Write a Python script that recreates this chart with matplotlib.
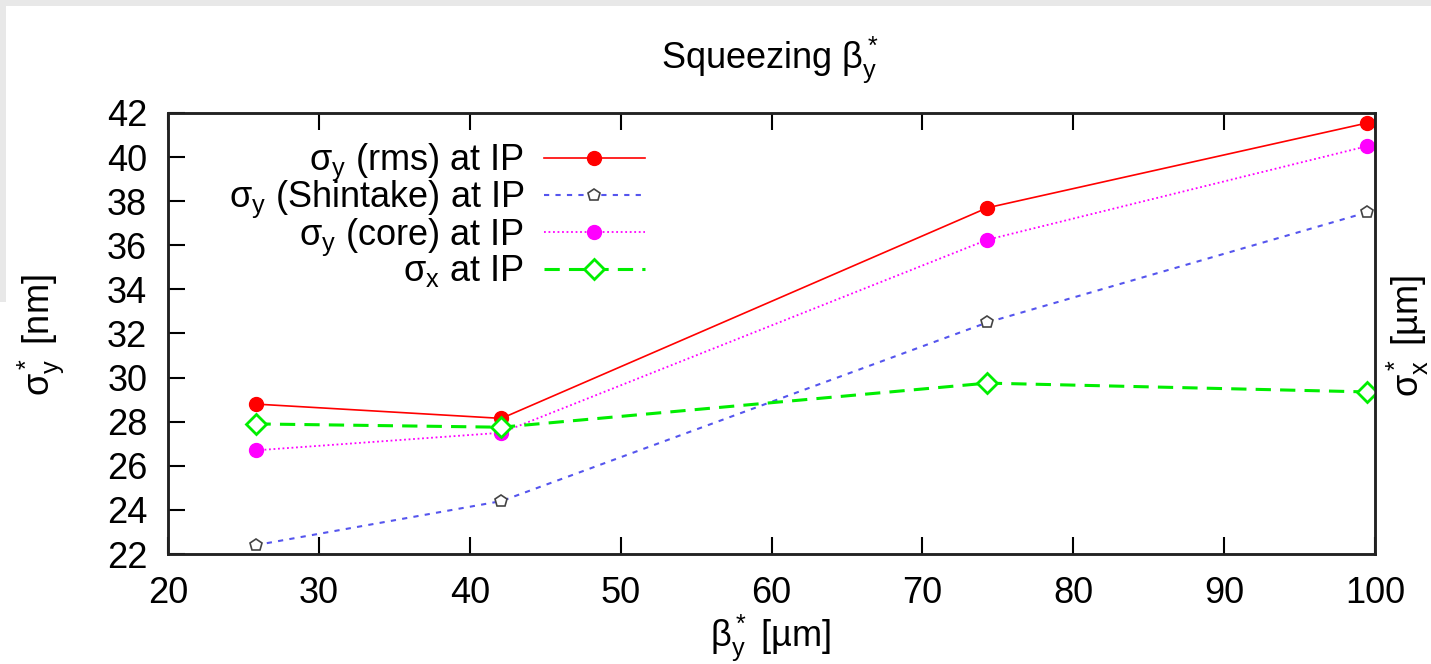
import matplotlib
matplotlib.use("Agg")
import matplotlib.pyplot as plt
from matplotlib.patches import Rectangle

plt.rcParams['font.family'] = ['Liberation Sans', 'DejaVu Sans']
plt.rcParams['mathtext.fontset'] = 'custom'
plt.rcParams['mathtext.rm'] = 'Liberation Sans'
plt.rcParams['mathtext.it'] = 'Liberation Sans'
plt.rcParams['mathtext.default'] = 'rm'

# beta_y* [um]
beta_y = [25.8, 42.1, 74.3, 99.5]
# sigma_y* [nm]
sig_rms = [28.8, 28.15, 37.7, 41.55]
sig_shintake = [22.4, 24.4, 32.5, 37.5]
sig_core = [26.7, 27.5, 36.25, 40.5]
# sigma_x* [um] (right axis)
sig_x = [27.9, 27.75, 29.75, 29.35]

x_ticks = [20, 30, 40, 50, 60, 70, 80, 90, 100]
y_ticks = [22, 24, 26, 28, 30, 32, 34, 36, 38, 40, 42]

W, H = 1431, 664
fig = plt.figure(figsize=(W / 100, H / 100), dpi=100, facecolor='white')
# grey strip of the screenshot border
fig.add_artist(Rectangle((0, 1 - 6 / H), 1, 6 / H, transform=fig.transFigure,
                         color='#e8e8e8', lw=0, zorder=-10))
fig.add_artist(Rectangle((0, 1 - 302 / H), 6 / W, 302 / H, transform=fig.transFigure,
                         color='#e8e8e8', lw=0, zorder=-10))

ax = fig.add_axes([168 / W, 110 / H, 1207 / W, 441 / H])
ax2 = ax.twinx()

fs = 26
ax.plot(beta_y, sig_rms, color='red', lw=1.2, ls='-', marker='o', ms=10,
        mfc='red', mec='red', label='σ$_y$ (rms) at IP')
ax.plot(beta_y, sig_shintake, color='#5555ee', lw=1.5, ls=(0, (2.5, 3)), marker='p', ms=9,
        mfc='white', mec='#444444', mew=1.2, label='σ$_y$ (Shintake) at IP')
ax.plot(beta_y, sig_core, color='magenta', lw=1.3, ls=(0, (1, 1.5)), marker='o', ms=10,
        mfc='magenta', mec='magenta', label='σ$_y$ (core) at IP')
ax2.plot(beta_y, sig_x, color='#00ee00', lw=2.2, ls=(0, (5, 3)), marker='D', ms=10,
         mfc='white', mec='#00ee00', mew=2, label='σ$_x$ at IP')

ax.set_xlim(20, 100)
ax.set_ylim(22, 42)
ax2.set_ylim(22, 42)
ax.set_xticks(x_ticks)
ax.set_yticks(y_ticks)
ax2.set_yticks([])
ax.tick_params(direction='in', length=12, width=1.5, labelsize=fs, top=True,
               right=False)
ax.tick_params(axis='x', pad=16)
ax.tick_params(axis='y', pad=15)
for a in (ax, ax2):
    for s in a.spines.values():
        s.set_linewidth(1.8)
        s.set_color('#222222')

h1, l1 = ax.get_legend_handles_labels()
h2, l2 = ax2.get_legend_handles_labels()
leg = ax2.legend(h1 + h2, l1 + l2, loc='upper right', bbox_to_anchor=(645 / W, 1 - 142 / H),
                 bbox_transform=fig.transFigure, frameon=False, markerfirst=False,
                 alignment='right', fontsize=fs, handlelength=2.8, handletextpad=0.55,
                 labelspacing=-0.12, borderpad=0, borderaxespad=0)

fig.text(770 / W, 1 - 60 / H, 'Squeezing β$_y^*$', ha='center', va='center', fontsize=fs)
fig.text(770 / W, 1 - 638 / H, 'β$_y^*$ [µm]', ha='center', va='center', fontsize=fs)
fig.text(41 / W, 1 - 335 / H, 'σ$_y^*$ [nm]', ha='center', va='center', fontsize=fs,
         rotation=90)
fig.text(1408 / W, 1 - 336 / H, 'σ$_x^*$ [µm]', ha='center', va='center', fontsize=fs,
         rotation=90)

fig.savefig('out.png', dpi=100)
